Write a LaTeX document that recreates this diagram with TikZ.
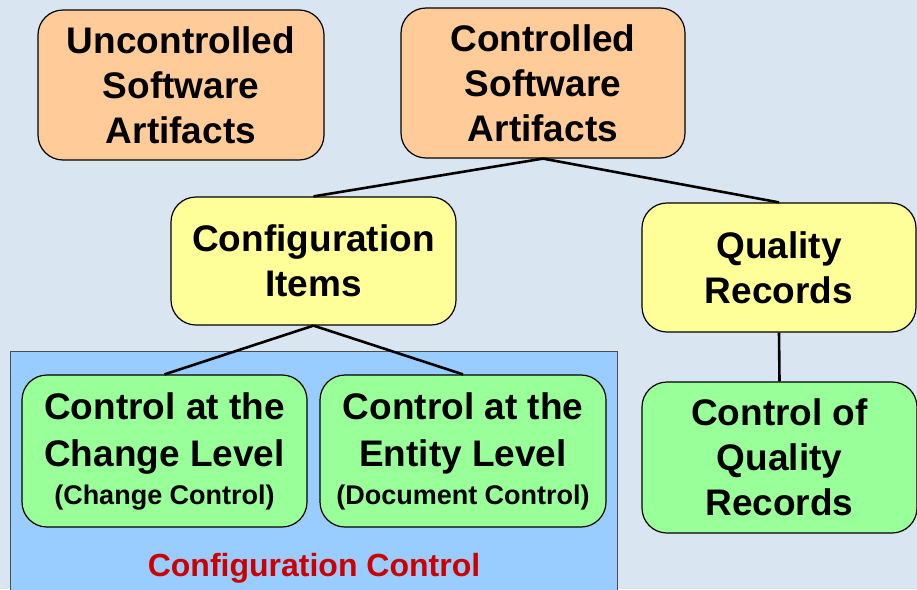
\documentclass[tikz,border=0pt]{standalone}
\usepackage{fontspec}
\setmainfont{Liberation Sans}
\usepackage{tikz}
\usepackage{xcolor}
\definecolor{bgblue}{RGB}{218,229,242}
\definecolor{orangebox}{RGB}{255,204,153}
\definecolor{yellowbox}{RGB}{255,255,153}
\definecolor{greenbox}{RGB}{153,255,153}
\definecolor{ccblue}{RGB}{153,204,255}
\definecolor{ccred}{RGB}{204,0,0}

\begin{document}
\begin{tikzpicture}[x=1pt,y=-1pt,
    box/.style={draw=black,line width=1.2pt,rounded corners=25pt,align=center,inner sep=0pt,
        font=\fontsize{37}{45}\selectfont\bfseries},
    link/.style={line width=2.6pt,black}]
	\useasboundingbox[fill=bgblue](0,0)rectangle(917,589);
	% configuration control area
	\fill[ccblue,draw=black!70,line width=0.8pt](10,351)rectangle(617,600);
	\path (314,568) node(cc)[font=\fontsize{32}{38}\selectfont\bfseries,text=ccred]{Configuration Control};
	% top level
	\node(uncon)[box,fill=orangebox,minimum width=286pt,minimum height=150pt] at (181,85){Uncontrolled\\Software\\Artifacts};
	\node(con)[box,fill=orangebox,minimum width=284pt,minimum height=150pt] at (543,83){Controlled\\Software\\Artifacts};
	% second level
	\node(items)[box,fill=yellowbox,minimum width=285pt,minimum height=128pt] at (313.5,261){Configuration\\Items};
	\node(qrec)[box,fill=yellowbox,minimum width=274pt,minimum height=129pt] at (779,267.5){Quality\\Records};
	% third level
	\node(change)[box,fill=greenbox,font=\fontsize{37}{47}\selectfont\bfseries,minimum width=285pt,minimum height=152pt] at (164.5,451){Control at the\\Change Level\\[-9pt]{\fontsize{27}{32}\selectfont(Change Control)}};
	\node(entity)[box,fill=greenbox,font=\fontsize{37}{47}\selectfont\bfseries,minimum width=286pt,minimum height=152pt] at (463,451){Control at the\\Entity Level\\[-9pt]{\fontsize{27}{32}\selectfont(Document Control)}};
	\node(qctrl)[box,fill=greenbox,minimum width=275pt,minimum height=151pt] at (779.5,457.5){Control of\\Quality\\Records};
	\draw[link](con.south)--(items.north);
	\draw[link](con.south)--(qrec.north);
	\draw[link](items.south)--(change.north);
	\draw[link](items.south)--(entity.north);
	\draw[link](qrec.south)--(qctrl.north);
\end{tikzpicture}
\end{document}
